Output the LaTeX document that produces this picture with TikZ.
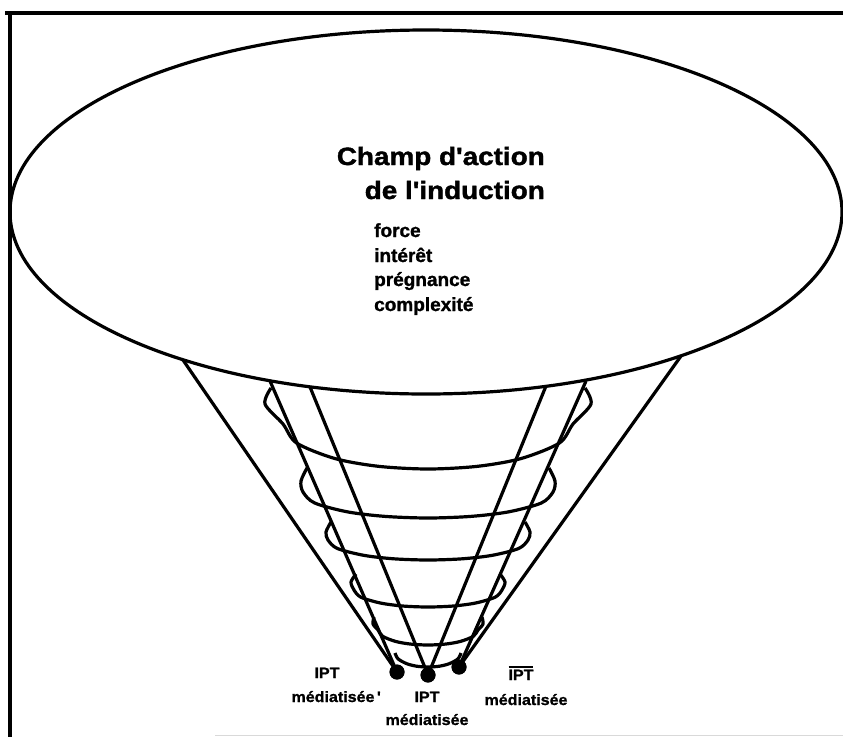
\documentclass[tikz,border=0pt]{standalone}
\usepackage{fontspec}
\setmainfont{Liberation Sans}
\newfontfamily\titlefont[FakeStretch=1.115, BoldFeatures={FakeBold=1.5}]{Liberation Sans}
\newfontfamily\listfont[FakeStretch=1.0, BoldFeatures={FakeBold=1.3}]{Liberation Sans}
\newfontfamily\labfont[FakeStretch=1.07, BoldFeatures={FakeBold=1.3}]{Liberation Sans}
\newcommand{\barIPT}{\setbox0=\hbox{IPT}\rlap{\rule[\dimexpr\ht0+2pt\relax]{\wd0}{1.6pt}}\box0}
\tikzset{
  frameline/.style={line width=3.2pt},
  coneline/.style={line width=3.2pt},
  ringline/.style={line width=3.2pt, line join=round},
  dot/.style={circle, fill=black, inner sep=0pt, minimum size=15pt},
  titletext/.style={font=\titlefont\bfseries\fontsize{25}{30}\selectfont, inner sep=0pt},
  listtext/.style={font=\listfont\bfseries\fontsize{19}{22}\selectfont, inner sep=0pt, anchor=base west},
  labtext/.style={font=\labfont\bfseries\fontsize{15}{18}\selectfont, inner sep=0pt},
  ringplot/.style={ringline, smooth, tension=0.5},
}
\begin{document}
\begin{tikzpicture}[x=1pt,y=-1pt]
\useasboundingbox (0,0) rectangle (843,737);
% frame
\draw[frameline] (843,13) -- (5,13);
\draw[frameline] (10,13) -- (10,737);
\draw[gray!30, line width=1pt] (215,735) -- (843,735);
% big ellipse
\draw[ringline] (426,212) ellipse [x radius=416pt, y radius=182pt];
% top end points of the cone lines, on the ellipse
\coordinate (oL) at (183,360);
\coordinate (sL) at (270,381);
\coordinate (iL) at (310,387);
\coordinate (iR) at (546,386);
\coordinate (sR) at (586,381);
\coordinate (oR) at (681,356);
% dots
\node[dot] (dl) at (397,672) {};
\node[dot] (dc) at (428,675) {};
\node[dot] (dr) at (459,667) {};
% cone lines
\draw[coneline] (oL) -- (dl.center);
\draw[coneline] (sL) -- (dl.center);
\draw[coneline] (iL) -- (dc.center);
\draw[coneline] (iR) -- (dc.center);
\draw[coneline] (sR) -- (dr.center);
\draw[coneline] (oR) -- (dr.center);
% rings (front arcs with side loops)
\draw[ringplot] plot coordinates {(271,388) (265,404) (283,424) (296.6,443) (334.8,458.5) (378.4,466.3) (428,469) (477.6,466.3) (521.2,458.5) (559.4,443) (573,424) (591,404) (585,388)};
\draw[ringplot] plot coordinates {(307,468) (301,481) (303,492) (314.7,503) (347.7,511.9) (385.3,516.4) (428,518) (470.7,516.4) (508.3,511.9) (541.3,503) (553,492) (555,481) (549,468)};
\draw[ringplot] plot coordinates {(331,522) (326,532) (328,540) (337.4,548.5) (363.7,555.3) (393.8,558.8) (428,560) (462.2,558.8) (492.3,555.3) (518.6,548.5) (528,540) (530,532) (525,522)};
\draw[ringplot] plot coordinates {(356,574) (351,582) (354,590) (360.9,597.2) (380.4,603) (402.7,606) (428,607) (453.3,606) (475.6,603) (495.1,597.2) (502,590) (505,582) (500,574)};
\draw[ringplot] plot coordinates {(374,617) (373,624) (378,630) (382.7,636.3) (395.9,641.5) (410.9,644.1) (428,645) (445.1,644.1) (460.1,641.5) (473.3,636.3) (478,630) (483,624) (482,617)};
\draw[ringplot] plot coordinates {(395,653) (398.1,658.9) (406.8,663.7) (416.7,666.2) (428,667) (439.3,666.2) (449.2,663.7) (457.9,658.9) (461,653)};
% dots again on top
\node[dot] at (dl) {};
\node[dot] at (dc) {};
\node[dot] at (dr) {};
% title
\node[titletext, anchor=base east] (t1) at (545,165) {Champ d'action};
\node[titletext, anchor=base east] (t2) at (545,199) {de l'induction};
\node[listtext] (l1) at (374,237) {force};
\node[listtext] (l2) at (374,262) {intérêt};
\node[listtext] (l3) at (374,286) {prégnance};
\node[listtext] (l4) at (374,311) {complexité};
% labels
\node[labtext, anchor=base] (ipt1) at (327,678) {IPT};
\node[labtext, anchor=base east] (med1) at (381,702) {médiatisée\,'};
\node[labtext, anchor=base] (ipt2) at (427,702) {IPT};
\node[labtext, anchor=base] (med2) at (427,725) {médiatisée};
\node[labtext, anchor=base] (ipt3) at (521,680) {\barIPT};
\node[labtext, anchor=base] (med3) at (526,705) {médiatisée};
\end{tikzpicture}
\end{document}
